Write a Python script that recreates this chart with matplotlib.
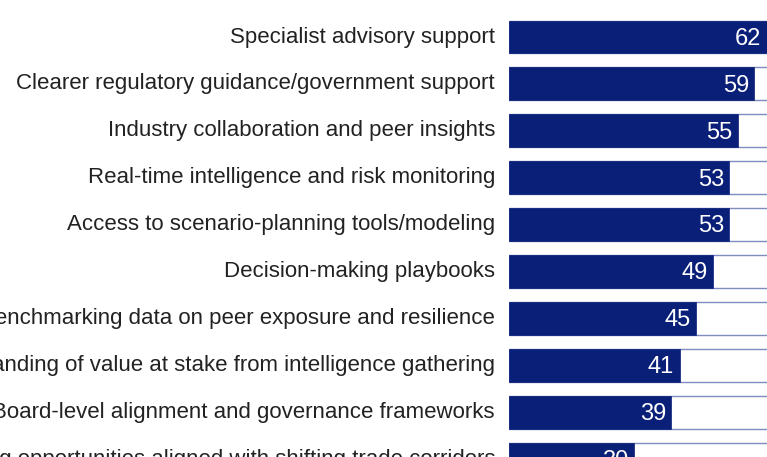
import numpy as np
import matplotlib as mpl
mpl.use('Agg')
import matplotlib.pyplot as plt

# data (share of respondents, %)
labels = [
    "Specialist advisory support",
    "Clearer regulatory guidance/government support",
    "Industry collaboration and peer insights",
    "Real-time intelligence and risk monitoring",
    "Access to scenario-planning tools/modeling",
    "Decision-making playbooks",
    "Benchmarking data on peer exposure and resilience",
    "Understanding of value at stake from intelligence gathering",
    "Board-level alignment and governance frameworks",
    "Identifying opportunities aligned with shifting trade corridors",
]
values = [62, 59, 55, 53, 53, 49, 45, 41, 39, 30]

bar_color = "#0a1f78"
track_edge = "#7f8dc0"
text_color = "#222222"

plt.rcParams['font.family'] = ['Liberation Sans', 'DejaVu Sans']

W, H = 767, 457
fig = plt.figure(figsize=(W / 100, H / 100), dpi=100)

# axes starts where the bars start, runs past the right edge (chart is cropped)
px_per_unit = 4.16
x0 = 509
ax = fig.add_axes([x0 / W, 0, 100 * px_per_unit / W, 1])
ax.set_xlim(0, 100)

pitch = 46.9
first = 37
ax.set_ylim((H - first) / pitch, -first / pitch)

y = np.arange(len(values))
h = 0.70

# white track to 100 with thin outline, then the value bar on top
ax.barh(y, [100] * len(values), height=h, color="white",
        edgecolor=track_edge, linewidth=1.0)
ax.barh(y, values, height=h, color=bar_color, edgecolor=bar_color, linewidth=0.5)

for yi, v in zip(y, values):
    ax.text(v - 1.3, yi + 0.04, str(v), color="white", ha="right", va="center",
            fontsize=17)

for yi, lab in zip(y, labels):
    fig.text(495 / W, 1 - (first + yi * pitch) / H, lab, ha="right", va="center",
             color=text_color, fontsize=16)

ax.axis("off")

fig.savefig("out.png", dpi=100)
